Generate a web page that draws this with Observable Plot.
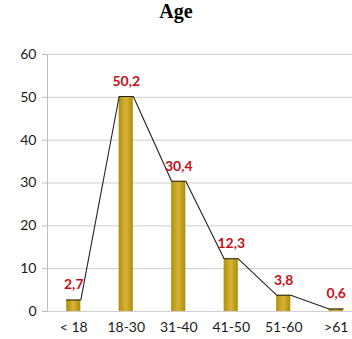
<!DOCTYPE html>
<html>
<head>
<meta charset="utf-8">
<script src="https://cdn.jsdelivr.net/npm/d3@7"></script>
<script src="https://cdn.jsdelivr.net/npm/@observablehq/plot@0.6"></script>
<style>
  html, body { margin: 0; padding: 0; background: #fff; }
  #wrap { width: 352px; height: 339px; overflow: hidden; }
  #title { height: 34px; line-height: 36px; text-align: center; font: bold 20px "Liberation Serif", "Times New Roman", serif; color: #000; }
</style>
</head>
<body>
<div id="wrap">
  <div id="title">Age</div>
  <div id="chart"></div>
</div>
<script>
// Age groups and their share of respondents (%)
const categories = ["< 18", "18-30", "31-40", "41-50", "51-60", ">61"];
const percents = [2.7, 50.2, 30.4, 12.3, 3.8, 0.6];
const yTicks = [0, 10, 20, 30, 40, 50, 60];

const halfBar = 0.135; // half bar width, in category units
const rows = categories.map((c, i) => ({i, cat: c, v: percents[i]}));
// the trend line runs across the top edge of each bar
const linePts = rows.flatMap(d => [{x: d.i - halfBar, y: d.v}, {x: d.i + halfBar, y: d.v}]);
const fmt = v => String(v).replace(".", ",");
const xMin = -0.5;

const chart = Plot.plot({
  width: 352,
  height: 305,
  marginTop: 20,
  marginBottom: 28,
  marginLeft: 47,
  marginRight: 0,
  style: {fontFamily: "Lato, 'Open Sans', sans-serif", fontSize: "14px", color: "#1a1a1a", background: "transparent"},
  x: {domain: [xMin, 5.31], ticks: rows.map(d => d.i), tickFormat: i => categories[i], tickSize: 0, tickPadding: 11, label: null},
  y: {domain: [0, 60], ticks: yTicks, tickSize: 5, tickPadding: 6, label: null},
  marks: [
    Plot.ruleY(yTicks, {stroke: "#cfcfcf", strokeWidth: 1}),
    Plot.ruleX([xMin], {stroke: "#bdbdbd", strokeWidth: 1}),
    Plot.rectY(rows, {x1: d => d.i - halfBar, x2: d => d.i + halfBar, y: "v", fill: "url(#goldBar)"}),
    Plot.line(linePts, {x: "x", y: "y", stroke: "#222", strokeWidth: 1.1}),
    Plot.text(rows, {x: "i", y: "v", text: d => fmt(d.v), dy: -15, fill: "#c8101a", fontWeight: "bold", fontSize: 14})
  ]
});

// horizontal gold gradient for the bars
const ns = "http://www.w3.org/2000/svg";
const defs = document.createElementNS(ns, "defs");
const grad = document.createElementNS(ns, "linearGradient");
grad.setAttribute("id", "goldBar");
grad.setAttribute("x1", "0"); grad.setAttribute("x2", "1");
grad.setAttribute("y1", "0"); grad.setAttribute("y2", "0");
[["0%", "#b08f0a"], ["50%", "#d6b43a"], ["100%", "#ad8c08"]].forEach(([o, c]) => {
  const s = document.createElementNS(ns, "stop");
  s.setAttribute("offset", o); s.setAttribute("stop-color", c);
  grad.appendChild(s);
});
defs.appendChild(grad);
chart.insertBefore(defs, chart.firstChild);
chart.querySelectorAll("[aria-label='y-axis tick'], [aria-label='y-axis'] line").forEach(e => e.setAttribute("stroke", "#bdbdbd"));
document.getElementById("chart").appendChild(chart);
</script>
</body>
</html>
